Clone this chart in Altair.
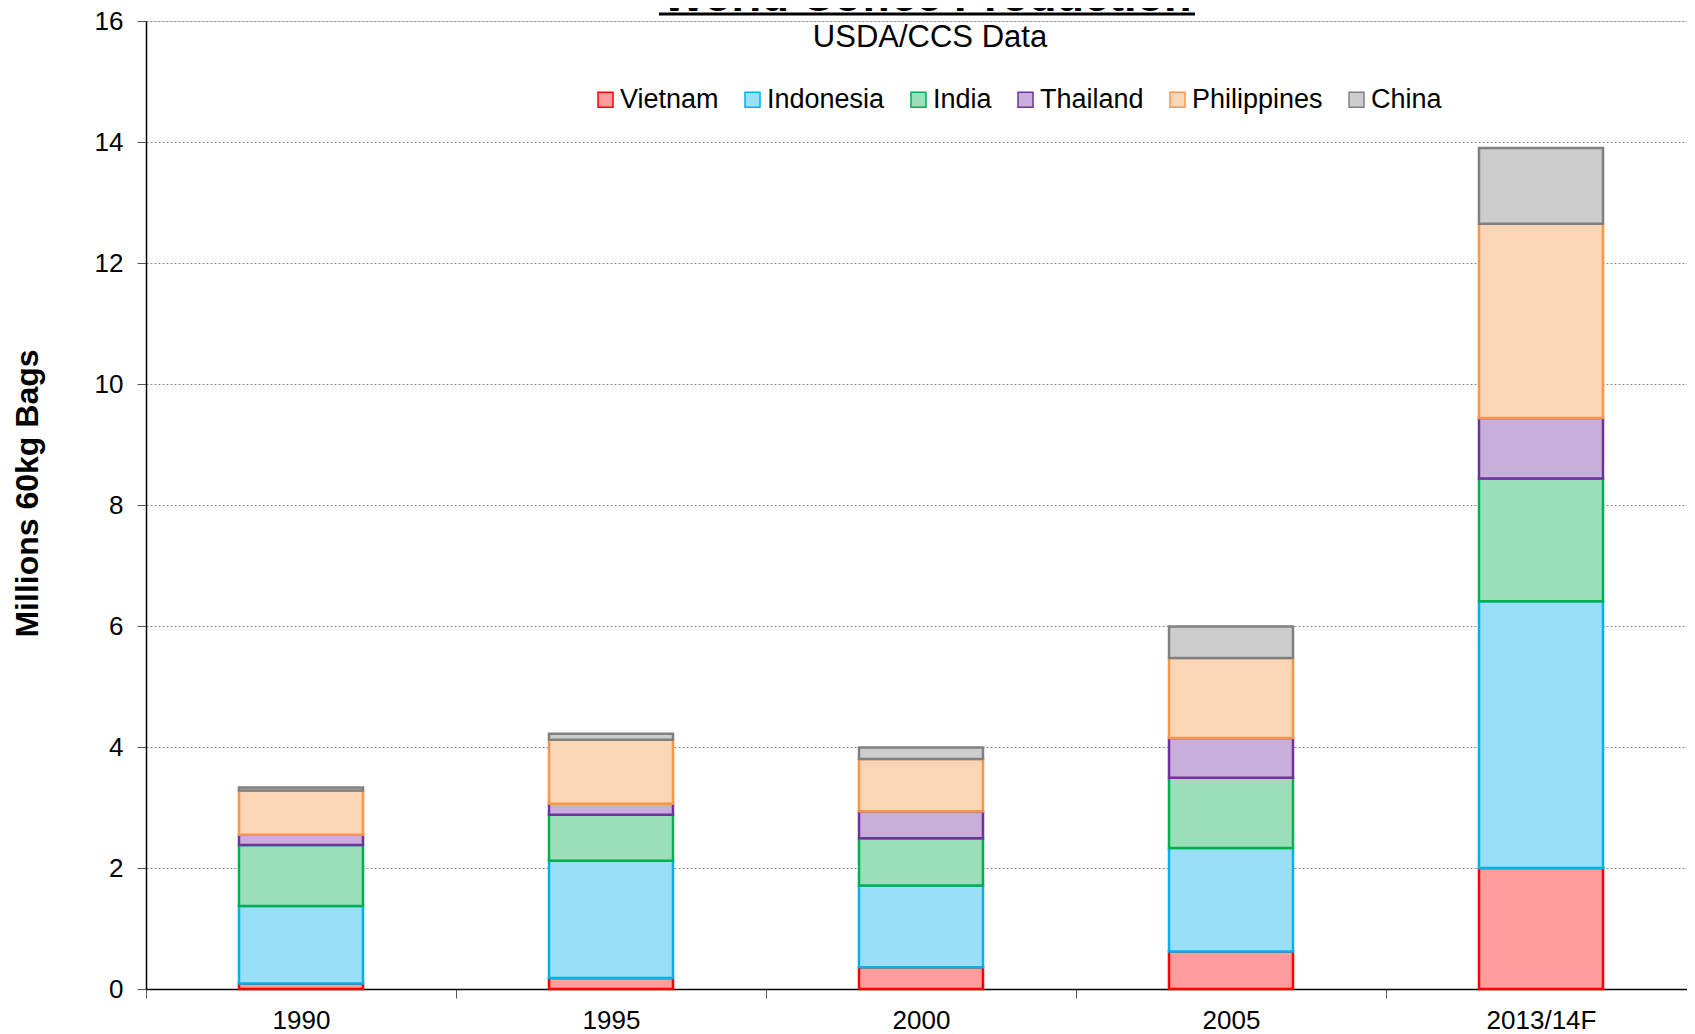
import altair as alt
import pandas as pd

years = ["1990", "1995", "2000", "2005", "2013/14F"]
countries = ["Vietnam", "Indonesia", "India", "Thailand", "Philippines", "China"]
vietnam = [0.09, 0.18, 0.36, 0.62, 2.00]
indonesia = [1.28, 1.94, 1.35, 1.71, 4.41]
india = [1.01, 0.76, 0.78, 1.16, 2.03]
thailand = [0.17, 0.18, 0.45, 0.66, 1.00]
philippines = [0.73, 1.06, 0.86, 1.32, 3.21]
china = [0.05, 0.10, 0.19, 0.52, 1.25]
line_colors = ["#FF0000", "#00B0F0", "#00B050", "#7030A0", "#F79646", "#808080"]
fill_colors = ["#FF9C9C", "#9ADFF8", "#9ADFBA", "#C8AEDA", "#FAD5B6", "#CDCDCD"]
y_ticks = [0, 2, 4, 6, 8, 10, 12, 14, 16]
title_text = "World Coffee Production"
subtitle_text = "USDA/CCS Data"
y_title = "Millions  60kg Bags"

series = [vietnam, indonesia, india, thailand, philippines, china]
rows = []
for ci, (c, vals) in enumerate(zip(countries, series)):
    for y, v in zip(years, vals):
        rows.append({"Year": y, "Country": c, "Value": v, "idx": ci})
df = pd.DataFrame(rows)

FONT = "Liberation Sans"

legend_kw = dict(title=None, orient="none", legendX=446, legendY=65,
                 direction="horizontal", symbolType="square", symbolSize=225,
                 symbolStrokeWidth=1.5, labelFontSize=27, labelFont=FONT,
                 labelColor="#000000", labelOffset=1, columnPadding=20,
                 padding=0)

bars = alt.Chart(df).mark_bar(width={"band": 0.4}, strokeWidth=2.5).encode(
    x=alt.X("Year:N", sort=years, title=None,
            scale=alt.Scale(paddingInner=0, paddingOuter=0, range=[0, 1550]),
            axis=alt.Axis(labelAngle=0, tickBand="extent", grid=False,
                          labelFontSize=26, labelPadding=9, tickSize=9,
                          tickColor="#555555", domainColor="#000000",
                          domainWidth=1.5, labelColor="#000000",
                          labelFont=FONT)),
    y=alt.Y("Value:Q", stack="zero",
            scale=alt.Scale(domain=[0, 16], nice=False),
            axis=alt.Axis(values=y_ticks, title=y_title, titleFont=FONT,
                          titleFontSize=32, titleFontWeight="bold",
                          titleColor="#000000", titleAngle=-90,
                          titleX=-109, titleY=472, titleAlign="center",
                          titleBaseline="alphabetic",
                          labelFontSize=26, labelFont=FONT, labelColor="#000000",
                          labelPadding=14, tickSize=9, tickColor="#555555",
                          domainColor="#000000", domainWidth=1.5,
                          grid=True, gridColor="#8c8c8c", gridDash=[2, 2],
                          gridWidth=1)),
    fill=alt.Fill("Country:N",
                  scale=alt.Scale(domain=countries, range=fill_colors),
                  legend=alt.Legend(**legend_kw)),
    stroke=alt.Stroke("Country:N",
                      scale=alt.Scale(domain=countries, range=line_colors),
                      legend=alt.Legend(**legend_kw)),
    order=alt.Order("idx:Q"),
)

tdf = pd.DataFrame({"t": [title_text]})
sdf = pd.DataFrame({"t": [subtitle_text]})

title = alt.Chart(tdf).mark_text(font=FONT, fontSize=45, fontWeight="bold",
                                 align="center", baseline="alphabetic",
                                 color="#000000").encode(
    text="t:N", x=alt.value(781), y=alt.value(-10))
underline = alt.Chart(tdf).mark_rule(color="#000000", strokeWidth=3).encode(
    x=alt.value(513), x2=alt.value(1049), y=alt.value(-7))
subtitle = alt.Chart(sdf).mark_text(font=FONT, fontSize=31, align="center",
                                    baseline="alphabetic",
                                    color="#000000").encode(
    text="t:N", x=alt.value(784), y=alt.value(26))

chart = alt.layer(bars, title, underline, subtitle).properties(
    width=1541, height=968,
    autosize=alt.AutoSizeParams(type="none"),
    padding={"left": 138, "top": 13, "right": 0, "bottom": 45},
).configure_view(stroke=None).configure(background="#FFFFFF")

chart.save("out.html", embed_options={"renderer": "svg", "actions": False})
